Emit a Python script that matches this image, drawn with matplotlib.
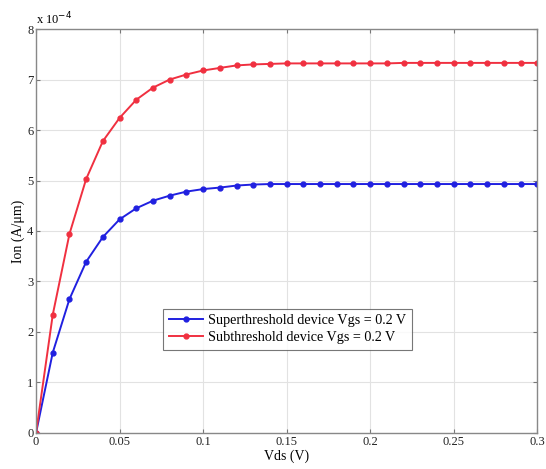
import numpy as np
import matplotlib
matplotlib.use("Agg")
import matplotlib.pyplot as plt

# drain voltage (V)
vds = np.round(np.arange(0, 0.301, 0.01), 2)

# on current, units of 1e-4 A/um
ion_super = [0, 1.59, 2.65, 3.39, 3.88, 4.23, 4.45, 4.60, 4.70, 4.78, 4.83,
             4.86, 4.90, 4.92, 4.93, 4.93, 4.93, 4.93, 4.93, 4.93, 4.93,
             4.93, 4.93, 4.93, 4.93, 4.93, 4.93, 4.93, 4.93, 4.93, 4.93]
ion_sub = [0, 2.34, 3.94, 5.03, 5.78, 6.24, 6.60, 6.84, 7.00, 7.10, 7.18,
           7.23, 7.28, 7.30, 7.31, 7.32, 7.32, 7.32, 7.32, 7.32, 7.32,
           7.32, 7.33, 7.33, 7.33, 7.33, 7.33, 7.33, 7.33, 7.33, 7.33]

plt.rcParams['font.family'] = ['Liberation Serif', 'DejaVu Serif']

fig = plt.figure(figsize=(5.46, 4.69), dpi=100)
ax = fig.add_axes([0.066, 0.077, 0.918, 0.861])

ax.plot(vds, ion_super, '-o', color='#2020e0', lw=1.4, ms=3.5,
        label='Superthreshold device Vgs = 0.2 V')
ax.plot(vds, ion_sub, '-o', color='#f03040', lw=1.4, ms=3.5,
        label='Subthreshold device Vgs = 0.2 V')

ax.set_xlim(0, 0.3)
ax.set_ylim(0, 8)
ax.set_xticks([0, 0.05, 0.1, 0.15, 0.2, 0.25, 0.3])
ax.set_xticklabels(['0', '0.05', '0.1', '0.15', '0.2', '0.25', '0.3'])
ax.set_yticks(range(0, 9))
ax.tick_params(direction='in', top=True, right=True, labelsize=9,
               length=3, pad=2, color='#777777', labelcolor='#222222')
ax.grid(True, color='#e2e2e2', lw=0.8)
for s in ax.spines.values():
    s.set_color('#888888')
    s.set_linewidth(1.0)

ax.set_xlabel('Vds (V)', fontsize=10, labelpad=1)
ax.set_ylabel('Ion (A/\u03bcm)', fontsize=10, labelpad=1)
ax.text(0.0, 1.005, r'x 10$^{-4}$', transform=ax.transAxes, fontsize=9,
        va='bottom', ha='left')

leg = ax.legend(loc='lower left', bbox_to_anchor=(0.253, 0.205), fontsize=10.2,
                frameon=True, fancybox=False, edgecolor='#555555',
                handlelength=2.4, handletextpad=0.4, borderpad=0.4,
                labelspacing=0.3, borderaxespad=0)
leg.get_frame().set_linewidth(0.8)

fig.savefig('out.png', dpi=100)
